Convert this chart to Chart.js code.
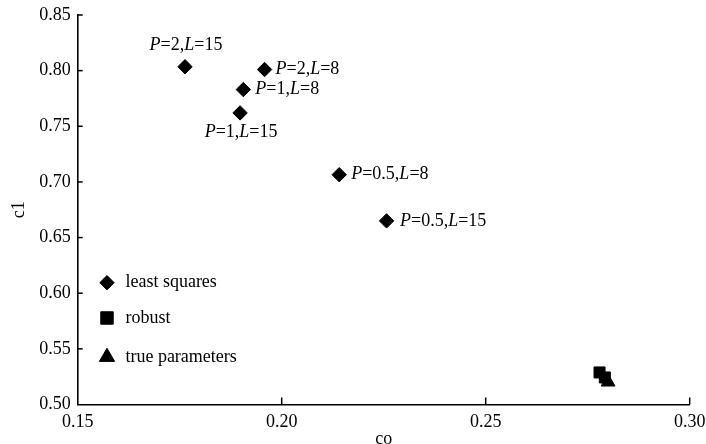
<!DOCTYPE html>
<html>
<head>
<meta charset="utf-8">
<script src="https://cdn.jsdelivr.net/npm/chart.js"></script>
<style>
  html, body { margin: 0; padding: 0; background: #fff; }
  #wrap { width: 706px; height: 444px; }
</style>
</head>
<body>
<div id="wrap"><canvas id="chart" width="706" height="444"></canvas></div>
<script>
// data
const lsLabels = ['P=2,L=15', 'P=2,L=8', 'P=1,L=8', 'P=1,L=15', 'P=0.5,L=8', 'P=0.5,L=15'];
const lsCo = [0.1763, 0.1958, 0.1906, 0.1898, 0.2141, 0.2257];
const lsC1 = [0.8035, 0.801, 0.783, 0.762, 0.7065, 0.665];
const robustCo = [0.2779, 0.2792];
const robustC1 = [0.5288, 0.5243];
const trueCo = [0.2800];
const trueC1 = [0.5202];
const xTicks = [0.15, 0.20, 0.25, 0.30];
const yTicks = [0.50, 0.55, 0.60, 0.65, 0.70, 0.75, 0.80, 0.85];
const legendNames = ['least squares', 'robust', 'true parameters'];

const SERIF = "'Liberation Serif', 'Times New Roman', serif";

function toPoints(xs, ys) {
    return xs.map((x, i) => ({ x: x, y: ys[i] }));
}

// where each annotation sits relative to its point
const labelPlacement = [
    { align: 'center', dx: 1, dy: -21.5 },
    { align: 'left', dx: 11, dy: 0 },
    { align: 'left', dx: 12, dy: 0 },
    { align: 'center', dx: 1, dy: 19.6 },
    { align: 'left', dx: 12, dy: 0 },
    { align: 'left', dx: 13.5, dy: 0 }
];

// letters in italic, the rest upright
function drawRichLabel(ctx, text, x, y, align) {
    const parts = text.split('').map(ch => ({
        ch: ch,
        font: (/[A-Za-z]/.test(ch) ? 'italic ' : '') + '18px ' + SERIF
    }));
    let total = 0;
    parts.forEach(p => { ctx.font = p.font; p.w = ctx.measureText(p.ch).width; total += p.w; });
    let cx = align === 'center' ? x - total / 2 : x;
    ctx.textAlign = 'left';
    ctx.textBaseline = 'middle';
    parts.forEach(p => {
        ctx.font = p.font;
        ctx.fillText(p.ch, cx, y);
        cx += p.w;
    });
}

function markerAt(ctx, style, r, x, y) {
    ctx.fillStyle = '#000';
    ctx.strokeStyle = '#000';
    ctx.lineWidth = 1;
    if (Chart.helpers && Chart.helpers.drawPoint) {
        Chart.helpers.drawPoint(ctx, { pointStyle: style, radius: r, rotation: 0, borderWidth: 1 }, x, y);
        return;
    }
    ctx.beginPath();
    if (style === 'rectRot') {
        ctx.moveTo(x, y - r); ctx.lineTo(x + r, y); ctx.lineTo(x, y + r); ctx.lineTo(x - r, y);
    } else if (style === 'rect') {
        const s = r * Math.SQRT1_2;
        ctx.rect(x - s, y - s, 2 * s, 2 * s);
    } else {
        ctx.moveTo(x, y - r);
        ctx.lineTo(x + r * 0.866, y + r / 2);
        ctx.lineTo(x - r * 0.866, y + r / 2);
    }
    ctx.closePath();
    ctx.fill();
    ctx.stroke();
}

const decorPlugin = {
    id: 'decor',
    afterDraw(chart) {
        const ctx = chart.ctx;
        const xs = chart.scales.x, ys = chart.scales.y;
        const area = chart.chartArea;
        ctx.save();

        // inside tick marks
        ctx.strokeStyle = '#000';
        ctx.lineWidth = 1.5;
        xTicks.forEach(v => {
            if (v === xs.min) return;
            const px = xs.getPixelForValue(v);
            ctx.beginPath(); ctx.moveTo(px, area.bottom); ctx.lineTo(px, area.bottom - 7); ctx.stroke();
        });
        yTicks.forEach(v => {
            if (v === ys.min) return;
            const py = ys.getPixelForValue(v);
            ctx.beginPath(); ctx.moveTo(area.left, py); ctx.lineTo(area.left + 5, py); ctx.stroke();
        });

        // point annotations
        ctx.fillStyle = '#000';
        lsLabels.forEach((t, i) => {
            const p = labelPlacement[i];
            const px = xs.getPixelForValue(lsCo[i]) + p.dx;
            const py = ys.getPixelForValue(lsC1[i]) + p.dy;
            drawRichLabel(ctx, t, px, py, p.align);
        });

        // legend inside the plot
        const styles = ['rectRot', 'rect', 'triangle'];
        const radii = [7.2, 8.8, 8.8];
        const rowY = [282.7, 318, 357];
        legendNames.forEach((name, i) => {
            markerAt(ctx, styles[i], radii[i], 107, rowY[i]);
            ctx.fillStyle = '#000';
            ctx.font = '18px ' + SERIF;
            ctx.textAlign = 'left';
            ctx.textBaseline = 'middle';
            ctx.fillText(name, 125.4, rowY[i]);
        });
        ctx.restore();
    }
};

const tickFont = { family: SERIF, size: 18 };

new Chart(document.getElementById('chart'), {
    type: 'scatter',
    data: {
        datasets: [
            {
                label: 'true parameters',
                data: toPoints(trueCo, trueC1),
                pointStyle: 'triangle',
                pointRadius: 8,
                backgroundColor: '#000',
                borderColor: '#000',
                borderWidth: 1
            },
            {
                label: 'robust',
                data: toPoints(robustCo, robustC1),
                pointStyle: 'rect',
                pointRadius: 7.8,
                backgroundColor: '#000',
                borderColor: '#000',
                borderWidth: 1
            },
            {
                label: 'least squares',
                data: toPoints(lsCo, lsC1),
                pointStyle: 'rectRot',
                pointRadius: 7.2,
                backgroundColor: '#000',
                borderColor: '#000',
                borderWidth: 1
            }
        ]
    },
    options: {
        responsive: false,
        animation: false,
        layout: { padding: { top: 15, right: 16.3, left: 0, bottom: 0 } },
        plugins: {
            legend: { display: false },
            tooltip: { enabled: false }
        },
        scales: {
            x: {
                type: 'linear',
                min: 0.15,
                max: 0.30,
                afterFit: s => { s.height = 39.5; s.paddingLeft = 0; s.paddingRight = 0; },
                afterBuildTicks: s => { s.ticks = xTicks.map(v => ({ value: v })); },
                ticks: {
                    color: '#000',
                    font: tickFont,
                    padding: 7,
                    maxRotation: 0,
                    callback: v => v.toFixed(2)
                },
                grid: { display: false, drawTicks: false },
                border: { display: true, color: '#000', width: 1.6 },
                title: {
                    display: true,
                    text: 'co',
                    color: '#000',
                    font: { family: SERIF, size: 18, lineHeight: 0.5 },
                    padding: 0
                }
            },
            y: {
                type: 'linear',
                min: 0.50,
                max: 0.85,
                afterFit: s => { s.width = 77.7; s.paddingTop = 0; s.paddingBottom = 0; },
                afterBuildTicks: s => { s.ticks = yTicks.map(v => ({ value: v })); },
                ticks: {
                    color: '#000',
                    font: tickFont,
                    padding: 7,
                    callback: v => v.toFixed(2)
                },
                grid: { display: false, drawTicks: false },
                border: { display: true, color: '#000', width: 1.6 },
                title: {
                    display: true,
                    text: 'c1',
                    color: '#000',
                    font: { family: SERIF, size: 18, lineHeight: 1.2 },
                    padding: { top: 8.2, bottom: 0 }
                }
            }
        }
    },
    plugins: [decorPlugin]
});
</script>
</body>
</html>
